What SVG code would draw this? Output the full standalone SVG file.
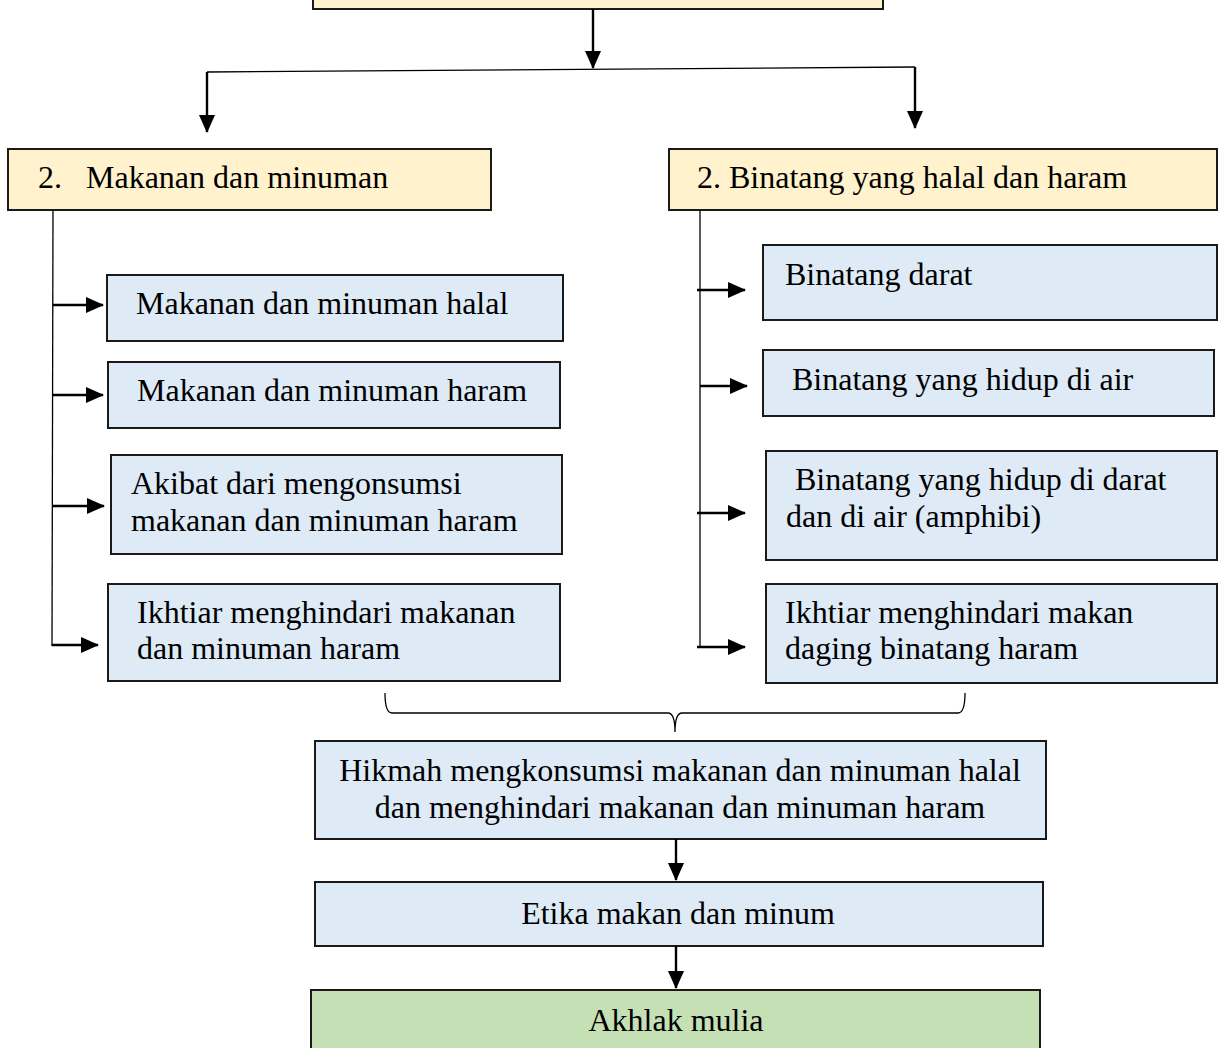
<svg xmlns="http://www.w3.org/2000/svg" width="1224" height="1048" viewBox="0 0 1224 1048">
<defs>
<marker id="ah" markerWidth="18" markerHeight="16" refX="17" refY="8" orient="auto" markerUnits="userSpaceOnUse">
<path d="M0,0 L18,8 L0,16 Z" fill="#000"/>
</marker>
<style>
.y{fill:#fff2cc;stroke:#1a1a1a;stroke-width:2}
.b{fill:#deeaf6;stroke:#1a1a1a;stroke-width:2}
.g{fill:#c5e0b4;stroke:#1a1a1a;stroke-width:2}
text{font-family:"Liberation Serif","Times New Roman",serif;font-size:32px;fill:#000}
.c{text-anchor:middle}
.a{stroke:#000;stroke-width:2.4;fill:none;marker-end:url(#ah)}
.l{stroke:#000;stroke-width:1.3;fill:none}
</style>
</defs>
<rect width="1224" height="1048" fill="#fff"/>
<g id="top"><rect class="y" x="313" y="-10" width="570" height="19"/></g>
<g id="left-head"><rect class="y" x="8" y="149" width="483" height="61"/><text x="38" y="188" xml:space="preserve">2.   Makanan dan minuman</text></g>
<g id="right-head"><rect class="y" x="669" y="149" width="548" height="61"/><text x="697" y="188">2. Binatang yang halal dan haram</text></g>
<g id="l1"><rect class="b" x="107" y="275" width="456" height="66"/><text x="136" y="314">Makanan dan minuman halal</text></g>
<g id="l2"><rect class="b" x="108" y="362" width="452" height="66"/><text x="137" y="401">Makanan dan minuman haram</text></g>
<g id="l3"><rect class="b" x="111" y="455" width="451" height="99"/><text x="131" y="494">Akibat dari mengonsumsi</text><text x="131" y="531">makanan dan minuman haram</text></g>
<g id="l4"><rect class="b" x="108" y="584" width="452" height="97"/><text x="137" y="623">Ikhtiar menghindari makanan</text><text x="137" y="659">dan minuman haram</text></g>
<g id="r1"><rect class="b" x="763" y="245" width="454" height="75"/><text x="785" y="285">Binatang darat</text></g>
<g id="r2"><rect class="b" x="763" y="350" width="451" height="66"/><text x="792" y="390">Binatang yang hidup di air</text></g>
<g id="r3"><rect class="b" x="766" y="451" width="451" height="109"/><text x="795" y="490">Binatang yang hidup di darat</text><text x="786" y="527">dan di air (amphibi)</text></g>
<g id="r4"><rect class="b" x="766" y="584" width="451" height="99"/><text x="785" y="623">Ikhtiar menghindari makan</text><text x="785" y="659">daging binatang haram</text></g>
<g id="hikmah"><rect class="b" x="315" y="741" width="731" height="98"/><text class="c" x="680" y="781">Hikmah mengkonsumsi makanan dan minuman halal</text><text class="c" x="680" y="818">dan menghindari makanan dan minuman haram</text></g>
<g id="etika"><rect class="b" x="315" y="882" width="728" height="64"/><text class="c" x="678" y="924">Etika makan dan minum</text></g>
<g id="akhlak"><rect class="g" x="311" y="990" width="729" height="70"/><text class="c" x="676" y="1031">Akhlak mulia</text></g>
<g id="connectors">
<line class="a" x1="593" y1="9" x2="593" y2="68"/>
<line class="l" x1="207" y1="72" x2="915" y2="67"/>
<line class="a" x1="207" y1="72" x2="207" y2="132"/>
<line class="a" x1="915" y1="67" x2="915" y2="128"/>
<line class="l" x1="53" y1="210" x2="52" y2="646"/>
<line class="a" x1="53" y1="305" x2="103" y2="305"/>
<line class="a" x1="53" y1="395" x2="103" y2="395"/>
<line class="a" x1="52" y1="506" x2="104" y2="506"/>
<line class="a" x1="52" y1="645" x2="98" y2="645"/>
<line class="l" x1="700" y1="210" x2="700" y2="647"/>
<line class="a" x1="697" y1="290" x2="745" y2="290"/>
<line class="a" x1="700" y1="386" x2="747" y2="386"/>
<line class="a" x1="697" y1="513" x2="745" y2="513"/>
<line class="a" x1="697" y1="647" x2="745" y2="647"/>
<path class="l" d="M385,693 Q385,713 392,713 L668,713 Q675,713 675,732 Q675,713 682,713 L958,713 Q965,713 965,693"/>
<line class="a" x1="676" y1="839" x2="676" y2="880"/>
<line class="a" x1="676" y1="946" x2="676" y2="988"/>
</g>
</svg>
